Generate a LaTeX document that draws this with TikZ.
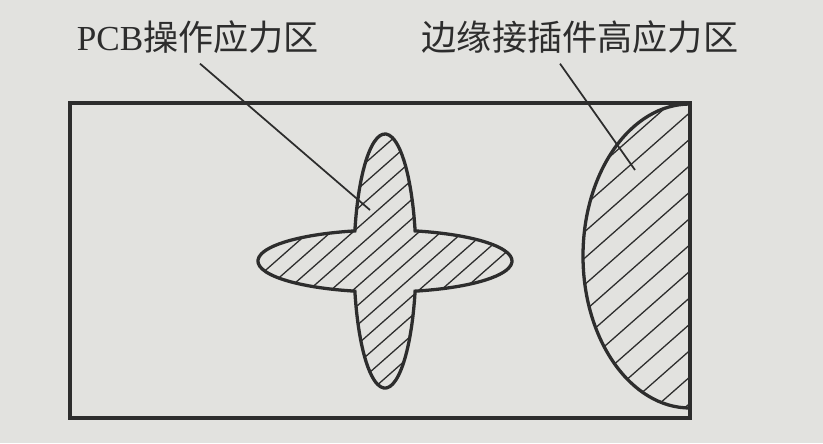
\documentclass[tikz,border=0pt]{standalone}
\usepackage{fontspec}
\setmainfont{Liberation Serif}
\newfontfamily\cjk{Noto Sans CJK SC}
\usepackage{tikz}
\usetikzlibrary{calc}
\usepackage{xcolor}
\definecolor{paper}{RGB}{226,226,223}
\definecolor{ink}{RGB}{45,45,45}

\begin{document}
\begin{tikzpicture}[x=0.03cm, y=-0.03cm,
        outline/.style={draw=ink, line width=2.8pt},
        hatch/.style={draw=ink, line width=1.1pt},
        leader/.style={draw=ink, line width=1.5pt},
        label/.style={font=\fontsize{30}{34}\selectfont, text=ink, inner sep=0pt}]
        % Paper
        \fill[paper] (0,0) rectangle (823,443);
        \useasboundingbox (0,0) rectangle (823,443);

        % Board
        \draw[outline] (70,103) rectangle (690,418);

        % Hatching of the cross (union of two ellipses)
        \begin{scope}
            \clip (385,261) ellipse[x radius=127, y radius=31]
                  (385,261) ellipse[x radius=31, y radius=127];
            \foreach \i in {0,...,25}
                \draw[hatch] (-30+\i*22,395) -- ++(320,-282);
        \end{scope}

        % Outline of the cross
        \draw[outline] (415.1,230.9)
            arc[start angle=-76.3, end angle=76.3, x radius=127, y radius=31]
            arc[start angle=13.7, end angle=166.3, x radius=31, y radius=127]
            arc[start angle=103.7, end angle=256.3, x radius=127, y radius=31]
            arc[start angle=193.7, end angle=346.3, x radius=31, y radius=127]
            -- cycle;

        % Edge connector zone
        \begin{scope}
            \clip (690,104) arc[start angle=-90, end angle=-270, x radius=107, y radius=152] -- cycle;
            \foreach \i in {0,...,16}
                \draw[hatch] (230+\i*30,412) -- ++(420,-370);
        \end{scope}
        \draw[outline] (690,104) arc[start angle=-90, end angle=-270, x radius=107, y radius=152];

        % Labels
        \node[label] (pcbLabel) at (198,37) {PCB\cjk 操作应力区};
        \node[label] (edgeLabel) at (580,37) {\cjk 边缘接插件高应力区};
        \coordinate (pcbTip) at (370,210);
        \coordinate (edgeTip) at (635,170);

        % Leader lines
        \draw[leader] (pcbLabel.south) ++(2,10) -- (pcbTip);
        \draw[leader] (edgeLabel.south) ++(-20,10) -- (edgeTip);
    \end{tikzpicture}
\end{document}
